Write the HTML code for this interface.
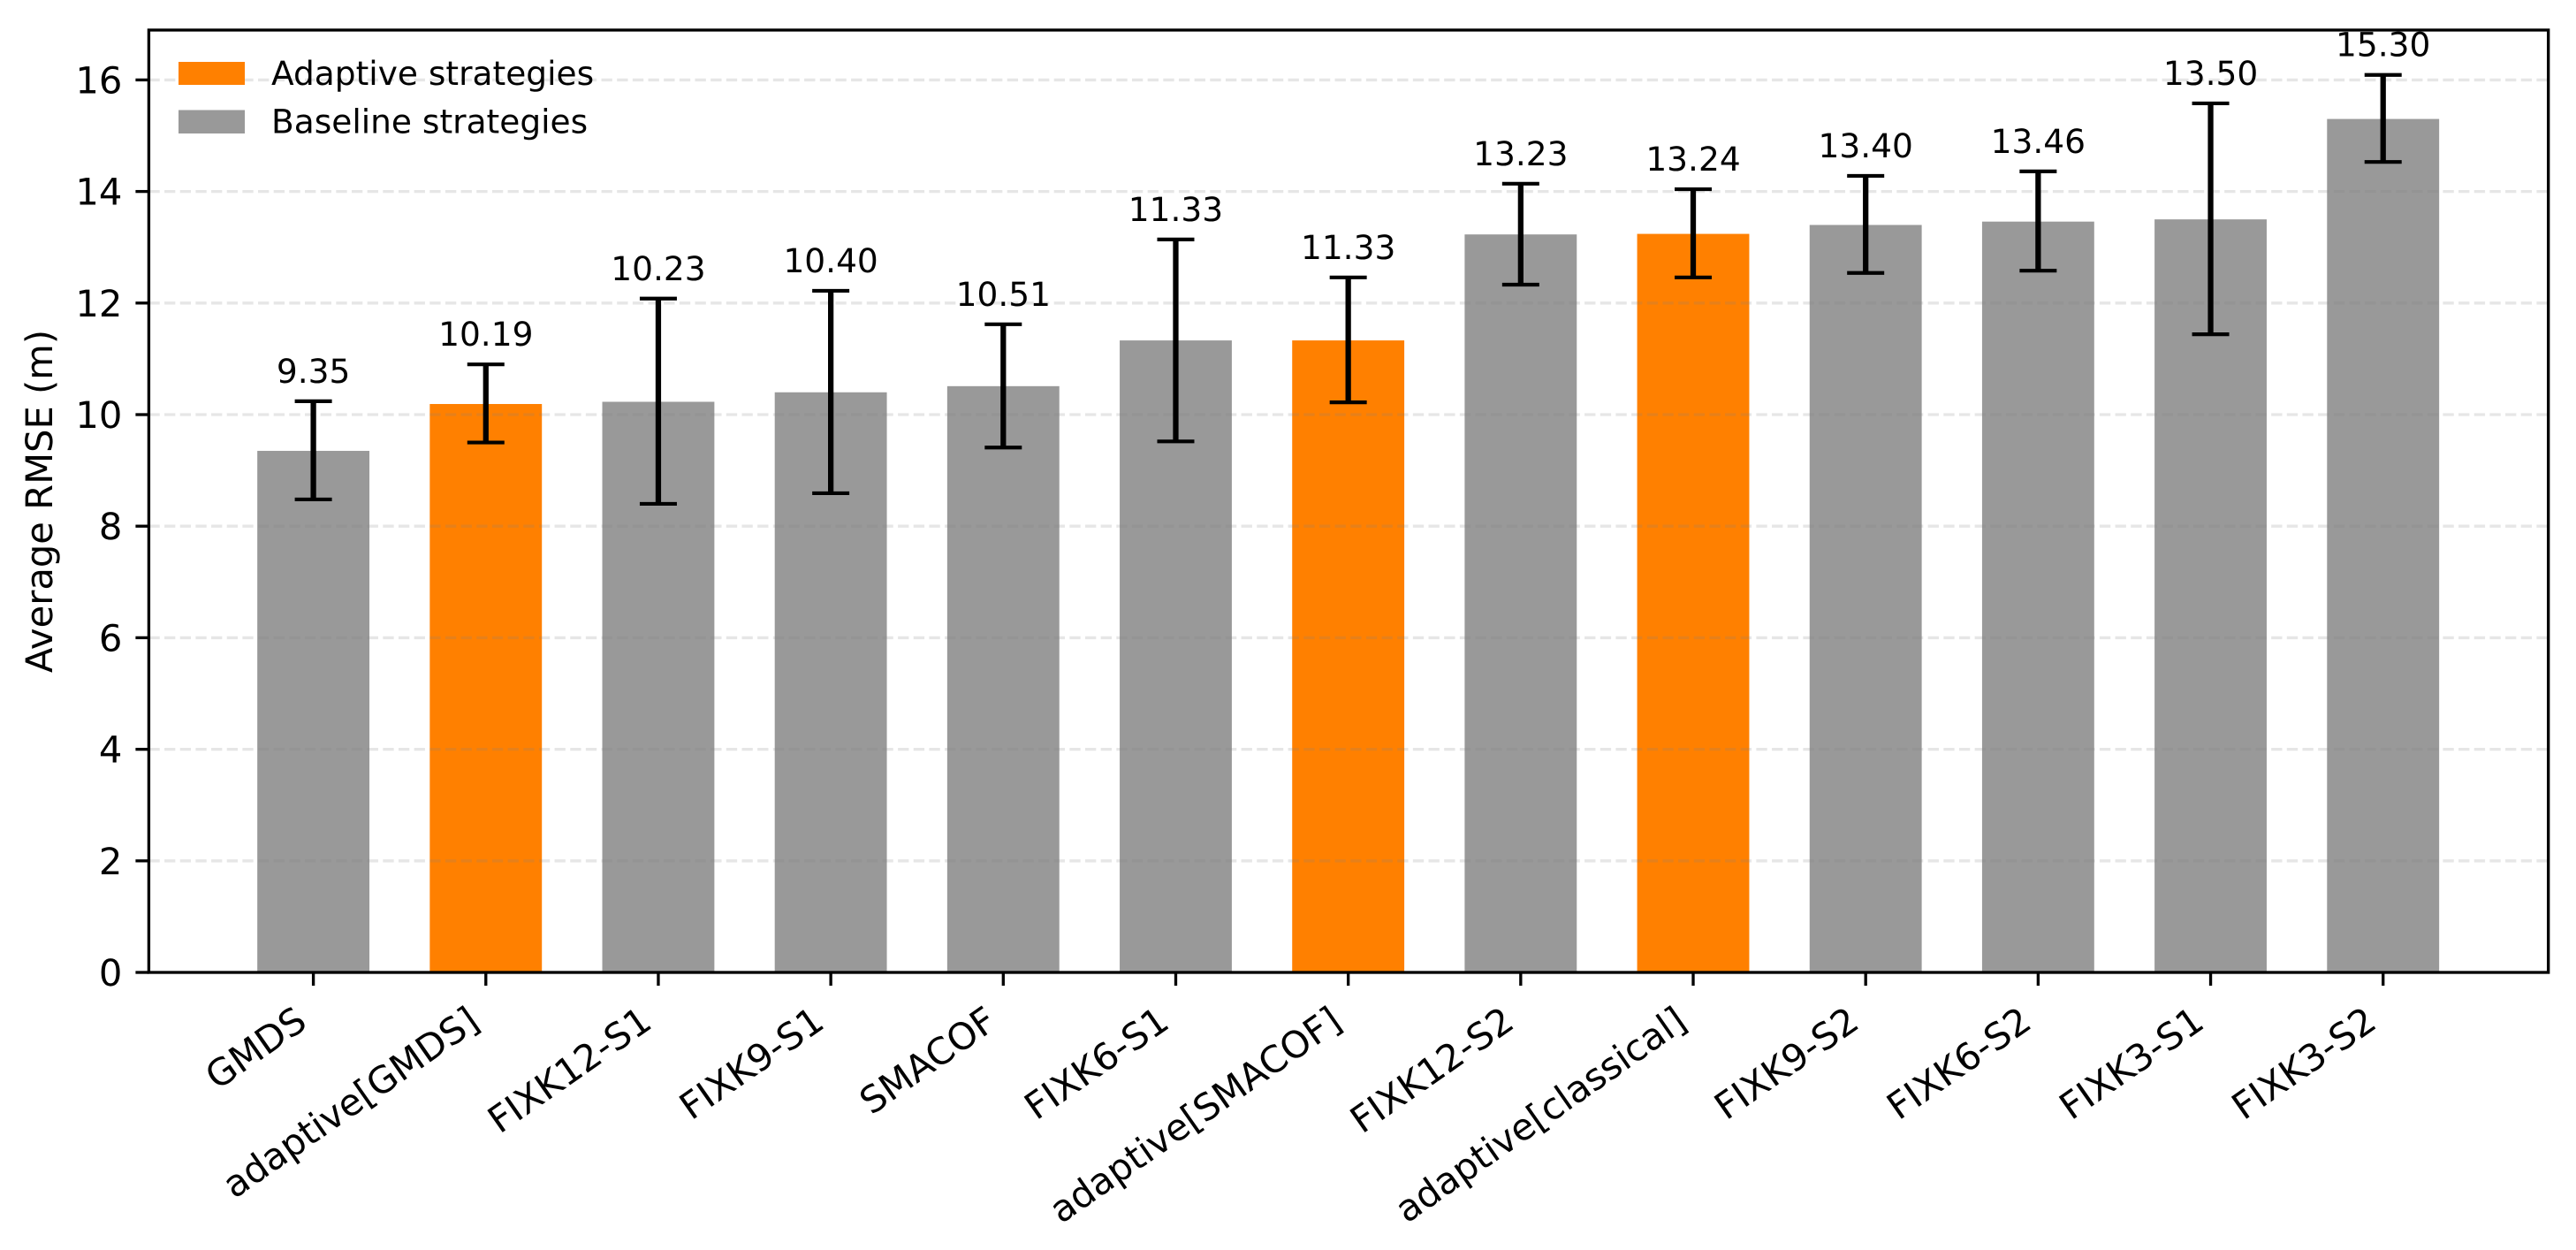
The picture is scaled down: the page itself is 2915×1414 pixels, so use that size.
<!DOCTYPE html>
<html lang="en">
<head>
<meta charset="utf-8">
<title>Average RMSE by strategy</title>
<style>
  html, body { margin: 0; padding: 0; background: #ffffff; width: 2915px; height: 1414px; overflow: hidden; }
  svg { display: block; }
  text { font-family: "DejaVu Sans", "Liberation Sans", sans-serif; fill: #000000; text-rendering: geometricPrecision; }
</style>
</head>
<body>
<svg id="chart" xmlns="http://www.w3.org/2000/svg" width="2915" height="1414" viewBox="0 0 2915 1414">
  <rect x="0" y="0" width="2915" height="1414" fill="#ffffff"></rect>
  <g id="bars"></g>
  <g id="grid"></g>
  <g id="errors"></g>
  <g id="values"></g>
  <g id="ticks"></g>
  <rect x="168.4" y="34" width="2715.3" height="1066" fill="none" stroke="#000000" stroke-width="3.33"></rect>
  <text transform="translate(59,567) rotate(-90)" text-anchor="middle" font-size="41.67">Average RMSE (m)</text>
  <g>
    <rect x="202" y="70" width="75" height="26" fill="#ff8000"></rect>
    <text x="307" y="96" font-size="37.5">Adaptive strategies</text>
    <rect x="202" y="124.5" width="75" height="26.5" fill="#999999"></rect>
    <text x="307" y="150.5" font-size="37.5">Baseline strategies</text>
  </g>
</svg>
<script>
const categories = ["GMDS", "adaptive[GMDS]", "FIXK12-S1", "FIXK9-S1", "SMACOF", "FIXK6-S1", "adaptive[SMACOF]", "FIXK12-S2", "adaptive[classical]", "FIXK9-S2", "FIXK6-S2", "FIXK3-S1", "FIXK3-S2"];
const rmseValues = [9.35, 10.19, 10.23, 10.40, 10.51, 11.33, 11.33, 13.23, 13.24, 13.40, 13.46, 13.50, 15.30];
const errorUpper = [10.24, 10.90, 12.08, 12.22, 11.62, 13.14, 12.46, 14.14, 14.04, 14.28, 14.36, 15.58, 16.09];
const errorLower = [8.48, 9.50, 8.40, 8.59, 9.41, 9.52, 10.22, 12.33, 12.46, 12.54, 12.58, 11.44, 14.53];
const strategyTypes = ["baseline", "adaptive", "baseline", "baseline", "baseline", "baseline", "adaptive", "baseline", "adaptive", "baseline", "baseline", "baseline", "baseline"];
const yTickLabels = [0, 2, 4, 6, 8, 10, 12, 14, 16];

const NS = "http://www.w3.org/2000/svg";
const plotLeft = 168.4, plotRight = 2883.7, plotTop = 34, plotBottom = 1100;
const xMin = -0.954, xMax = 12.958, yMin = 0, yMax = 16.894;
const barWidth = 0.65;

function xScale(v) { return plotLeft + (v - xMin) / (xMax - xMin) * (plotRight - plotLeft); }
function yScale(v) { return plotBottom - (v - yMin) / (yMax - yMin) * (plotBottom - plotTop); }
function make(tag, parentId) {
  const el = document.createElementNS(NS, tag);
  document.getElementById(parentId).appendChild(el);
  return el;
}
function setAll(el, attrs) {
  for (const k in attrs) el.setAttribute(k, attrs[k]);
  return el;
}
function slug(s) { return s.toLowerCase().replace(/[^a-z0-9]+/g, "-").replace(/-$/, ""); }

yTickLabels.forEach(function (t) {
  const y = yScale(t);
  if (t > 0) {
    const g = make("line", "grid");
    
    
    setAll(g, { x1: plotLeft, x2: plotRight, y1: y, y2: y, stroke: "#808080", "stroke-opacity": 0.2, "stroke-width": 3.33, "stroke-dasharray": "12.33 5.33" });
  }
  const tick = make("line", "ticks");
  
  
  setAll(tick, { x1: plotLeft - 15, x2: plotLeft, y1: y, y2: y, stroke: "#000", "stroke-width": 3.33 });
  const lab = make("text", "ticks");
  
  
  setAll(lab, { x: plotLeft - 30, y: y + 15, "text-anchor": "end", "font-size": 41.67 });
  lab.textContent = String(t);
});

categories.forEach(function (name, i) {
  const cx = xScale(i);
  const halfW = (xScale(i + barWidth / 2) - xScale(i - barWidth / 2)) / 2;
  const key = slug(name);

  const bar = make("rect", "bars");
  
  
  setAll(bar, { x: cx - halfW, y: yScale(rmseValues[i]), width: halfW * 2, height: yScale(0) - yScale(rmseValues[i]), fill: strategyTypes[i] === "adaptive" ? "#ff8000" : "#999999" });

  const stem = make("line", "errors");
  
  
  setAll(stem, { x1: cx, x2: cx, y1: yScale(errorLower[i]), y2: yScale(errorUpper[i]), stroke: "#000", "stroke-width": 6.25 });

  const capTop = make("line", "errors");
  
  
  setAll(capTop, { x1: cx - 21, x2: cx + 21, y1: yScale(errorUpper[i]), y2: yScale(errorUpper[i]), stroke: "#000", "stroke-width": 4.17 });

  const capLow = make("line", "errors");
  
  
  setAll(capLow, { x1: cx - 21, x2: cx + 21, y1: yScale(errorLower[i]), y2: yScale(errorLower[i]), stroke: "#000", "stroke-width": 4.17 });

  const val = make("text", "values");
  
  
  setAll(val, { x: cx, y: yScale(errorUpper[i]) - 21, "text-anchor": "middle", "font-size": 37.5 });
  val.textContent = rmseValues[i].toFixed(2);

  const tick = make("line", "ticks");
  
  
  setAll(tick, { x1: cx, x2: cx, y1: plotBottom, y2: plotBottom + 15, stroke: "#000", "stroke-width": 3.33 });

  const lab = make("text", "ticks");
  
  
  setAll(lab, { transform: "translate(" + (cx - 5) + ",1161) rotate(-35)", "text-anchor": "end", "font-size": 41.67 });
  lab.textContent = name;
});
</script>
</body>
</html>
